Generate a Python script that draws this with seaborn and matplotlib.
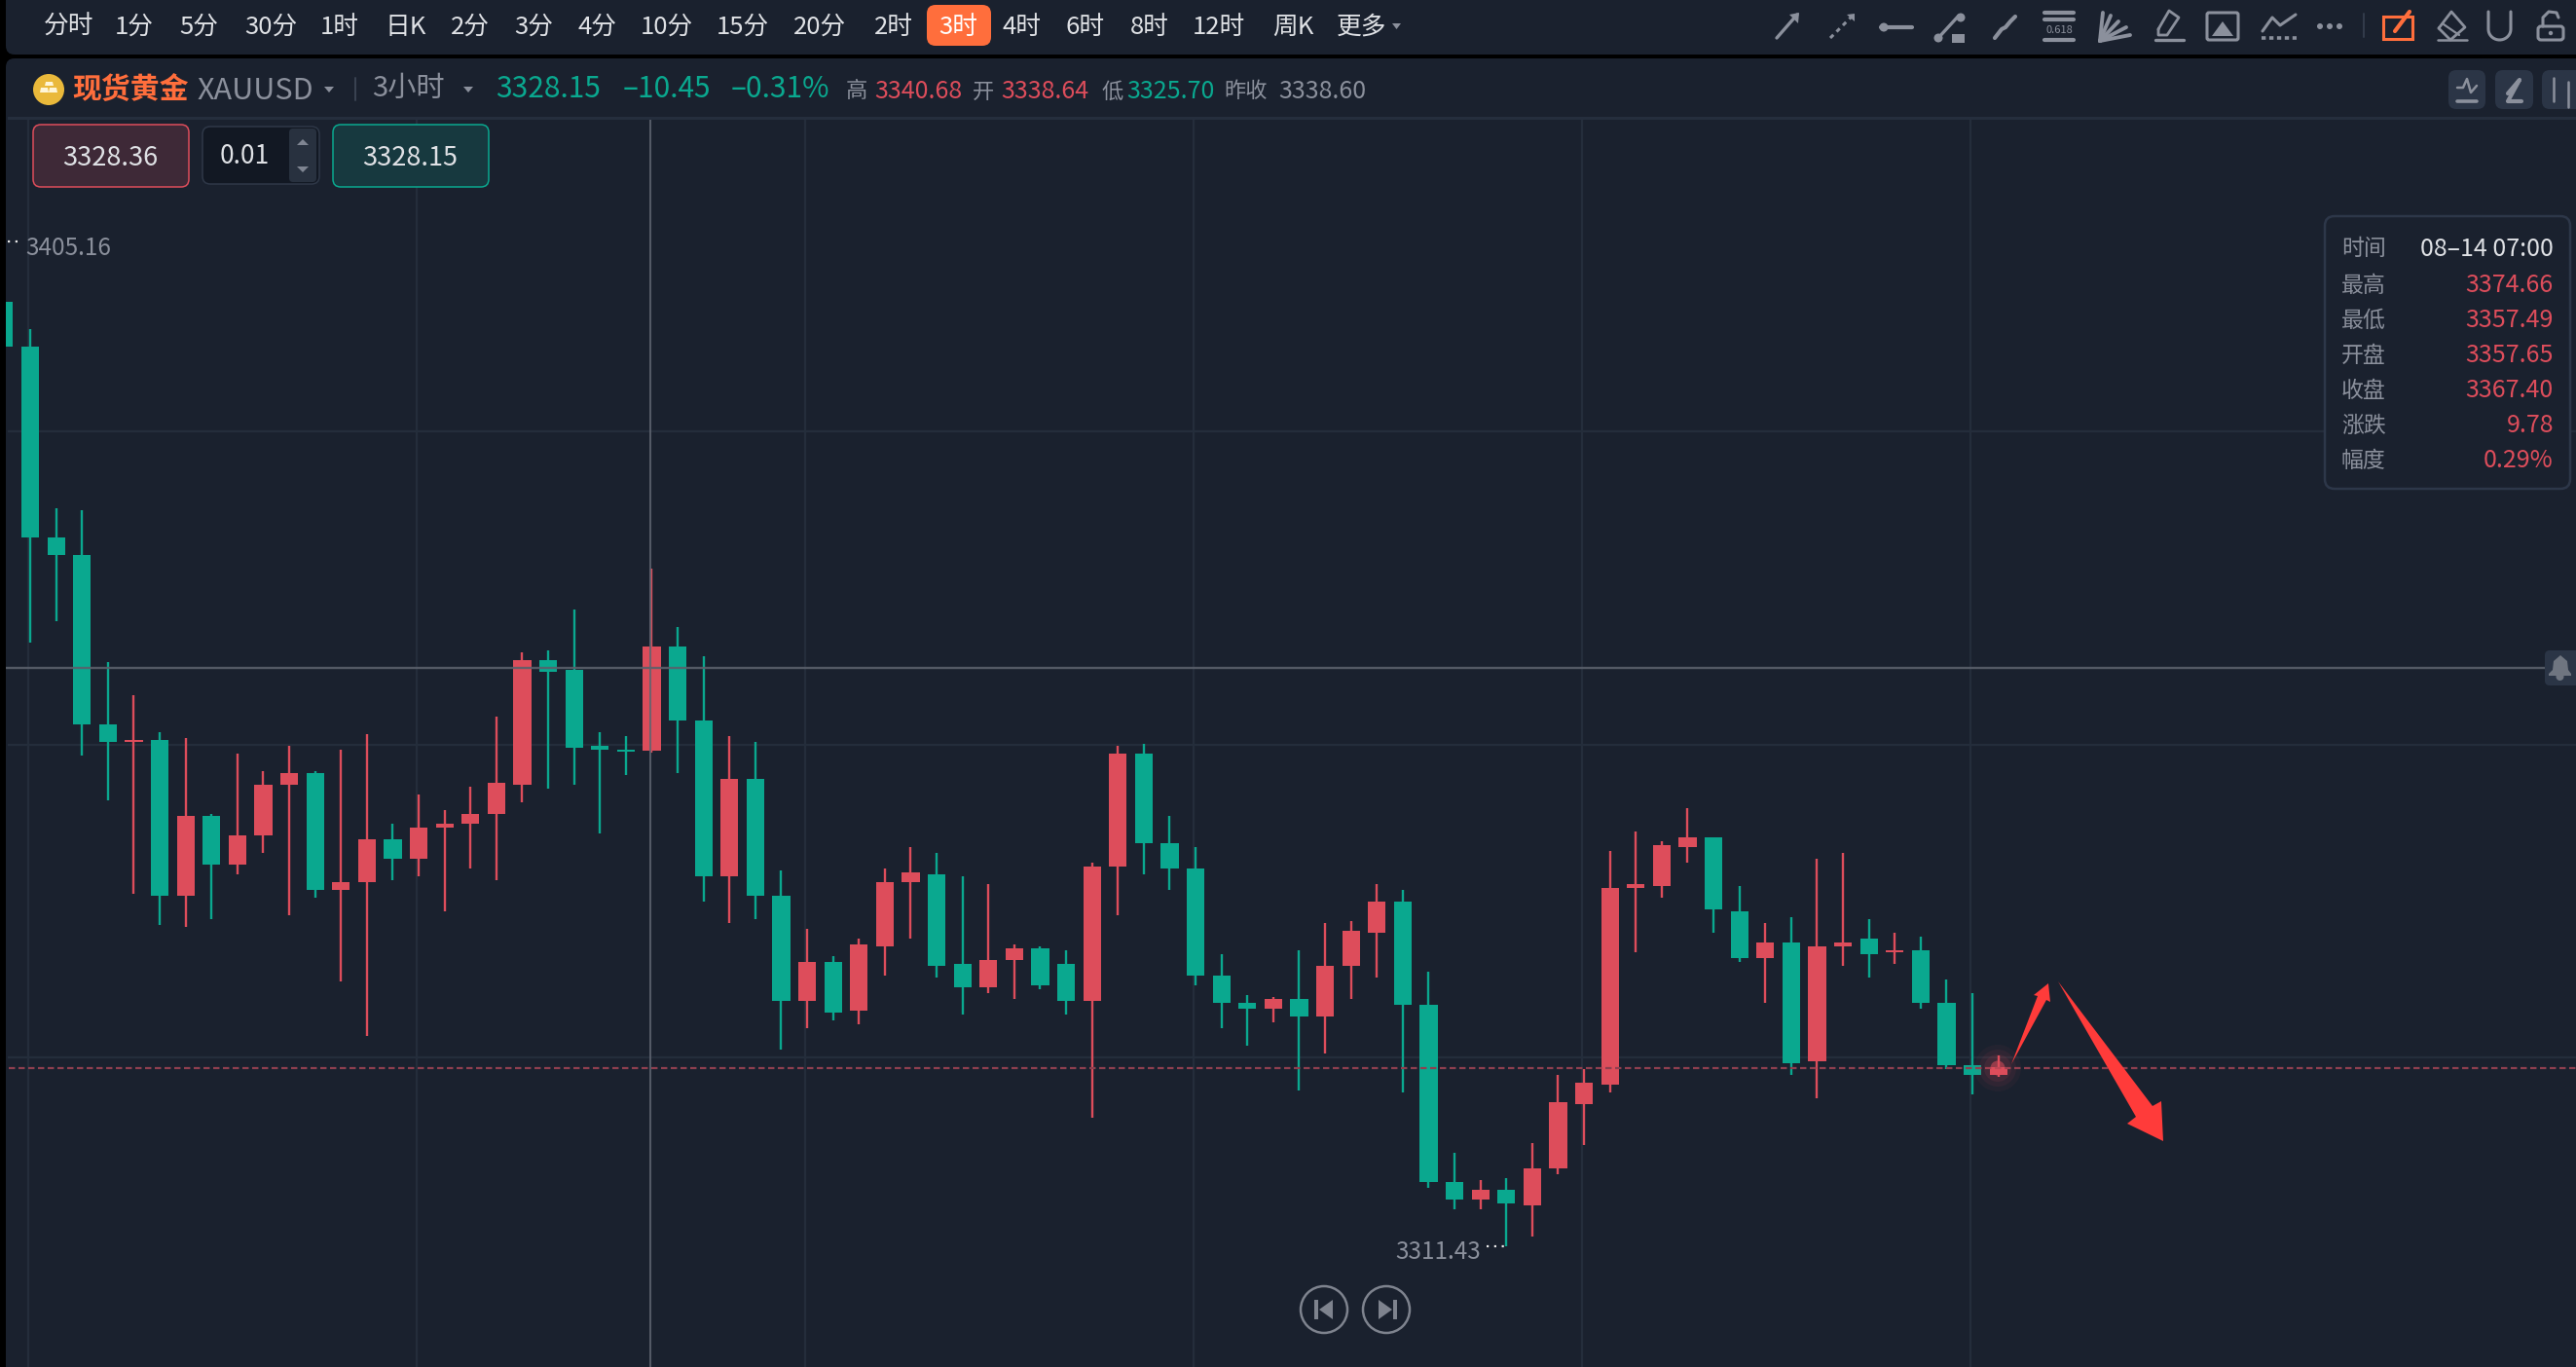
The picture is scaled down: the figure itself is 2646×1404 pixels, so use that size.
import numpy as np
import pandas as pd
import matplotlib
matplotlib.use("Agg")
import matplotlib.pyplot as plt
from matplotlib.patches import FancyBboxPatch, Polygon, Circle, Rectangle
from matplotlib.transforms import IdentityTransform
import seaborn as sns

# ------------------ data ------------------
bars = list(range(-1, 77))
opens = [3399.49,3395.36,3377.52,3375.87,3360.08,3358.44,3358.64,3344.09,3351.56,3347.03,3349.72,3354.45,3355.55,3344.64,3345.38,3349.37,3347.52,3350.46,3350.81,3351.71,3354.45,3366.06,3365.16,3358.09,3357.74,3357.65,3367.37,3360.45,3345.92,3354.99,3344.11,3334.27,3337.92,3333.37,3339.38,3345.36,3346.09,3337.75,3335.56,3338.10,3339.21,3337.75,3334.27,3346.82,3357.35,3349.01,3346.65,3336.64,3334.10,3333.58,3334.48,3332.85,3337.58,3340.67,3343.58,3333.95,3317.39,3315.77,3316.67,3315.24,3318.68,3324.68,3326.48,3344.83,3345.01,3348.64,3349.57,3342.64,3338.30,3339.77,3328.67,3339.37,3340.13,3338.87,3339.01,3334.13,3328.31,3327.40]
closes = [3395.36,3377.52,3375.87,3360.08,3358.44,3358.64,3344.09,3351.56,3347.03,3349.72,3354.45,3355.55,3344.64,3345.38,3349.37,3347.52,3350.46,3350.81,3351.71,3354.65,3366.06,3365.01,3357.89,3357.74,3357.54,3367.40,3360.45,3345.92,3354.99,3344.11,3334.27,3337.92,3333.20,3339.56,3345.36,3346.27,3337.58,3335.56,3338.10,3339.21,3335.73,3334.27,3346.82,3357.35,3349.01,3346.65,3336.64,3334.10,3333.58,3334.48,3332.85,3337.58,3340.85,3343.58,3333.95,3317.39,3315.77,3316.67,3315.41,3318.68,3324.86,3326.66,3344.83,3345.19,3348.82,3349.57,3342.86,3338.30,3339.77,3328.49,3339.37,3339.77,3338.65,3339.01,3334.13,3328.31,3327.41,3328.10]
highs = [3405.16,3396.95,3380.26,3380.06,3365.91,3362.82,3359.33,3358.83,3351.71,3357.34,3355.75,3358.09,3355.75,3357.74,3359.18,3350.81,3353.55,3352.11,3354.25,3360.83,3366.81,3367.01,3370.79,3359.33,3358.98,3374.66,3369.17,3366.46,3358.99,3358.47,3346.48,3341.02,3338.48,3340.11,3346.65,3348.63,3348.11,3345.92,3345.19,3339.56,3339.38,3339.00,3347.21,3358.08,3358.26,3351.55,3348.63,3338.65,3334.83,3334.66,3339.00,3341.57,3341.74,3345.19,3344.65,3337.04,3320.12,3317.57,3317.79,3321.05,3327.38,3327.95,3348.28,3350.11,3349.22,3352.30,3349.57,3345.01,3341.56,3342.10,3347.56,3348.10,3341.92,3340.67,3340.31,3336.28,3335.03,3329.21]
lows = [3395.36,3367.70,3369.70,3357.19,3353.00,3344.29,3341.35,3341.20,3341.89,3346.08,3348.07,3342.29,3343.94,3336.11,3331.03,3345.53,3345.93,3342.64,3346.63,3345.53,3352.81,3354.10,3354.45,3349.92,3355.35,3357.49,3355.55,3343.56,3341.57,3341.92,3329.76,3331.74,3332.47,3332.12,3336.64,3340.11,3336.46,3333.02,3335.01,3334.48,3335.39,3333.02,3323.40,3342.27,3346.09,3344.63,3335.73,3331.74,3330.10,3332.29,3325.93,3329.37,3334.49,3336.46,3325.76,3316.85,3314.88,3314.88,3311.43,3312.33,3318.14,3320.87,3325.76,3338.83,3343.93,3347.20,3340.67,3337.94,3334.13,3327.41,3325.22,3337.58,3336.46,3337.76,3333.59,3327.95,3325.58,3327.25]
grid_prices = [3387.43, 3358.17, 3329.03]
grid_bars = [0, 15, 30, 45, 60, 75]
cross_bar = 24
cross_price = 3365.36
last_price = 3328.04

periods = ["分时","1分","5分","30分","1时","日K","2分","3分","4分","10分","15分","20分","2时","3时","4时","6时","8时","12时","周K","更多"]
tooltip_labels = ["时间","最高","最低","开盘","收盘","涨跌","幅度"]
tooltip_values = ["08–14 07:00","3374.66","3357.49","3357.65","3367.40","9.78","0.29%"]

# ------------------ style ------------------
BG = "#1a212e"; TEAL = "#0aa88f"; RED = "#dd4d5b"; GREY = "#8b909c"
ORANGE = "#ff6e3c"; LIGHT = "#dfe1e5"; GRID = "#242d3b"
W, H = 2646, 1404
sns.set_theme(style="dark", rc={"figure.facecolor": "#000000", "axes.facecolor": BG})
plt.rcParams["font.family"] = ["Noto Sans CJK SC", "DejaVu Sans"]
plt.rcParams["patch.force_edgecolor"] = False

fig = plt.figure(figsize=(W/100, H/100), dpi=100)
fig.patch.set_facecolor("#000000")
# rounded toolbar and chart panels (device pixels, origin bottom-left)
for (x0, y0, x1, y1) in [(6, H-56, W+30, H+30), (6, -30, W+30, H-60)]:
    fig.add_artist(FancyBboxPatch((x0, y0), x1-x0, y1-y0, boxstyle="round,pad=0,rounding_size=9",
                                  fc=BG, ec="none", transform=IdentityTransform(), zorder=-5))

L, R, T, B = 6, W, 122, H
ax = fig.add_axes([L/W, 1-B/H, (R-L)/W, (B-T)/H])
STEP, X0 = 26.6, 31.0
PPP, YREF, PREF = 11.01, 1279.8, 3311.43   # pixels per price, reference

df = pd.DataFrame({"bar": bars, "o": opens, "c": closes, "h": highs, "l": lows})
df["base"] = df[["o", "c"]].min(axis=1)
df["size"] = (df["o"] - df["c"]).abs()
df["up"] = df["c"] > df["o"]

ax.hlines(grid_prices, (8-X0)/STEP, 120, color=GRID, lw=1.6, zorder=1)
ax.vlines(np.array(grid_bars) - 0.06, 3200, 3500, color=GRID, lw=1.6, zorder=1)

for is_up, colour in [(True, RED), (False, TEAL)]:
    sub = df[df["up"] == is_up].sort_values("bar")
    ax.vlines(sub["bar"], sub["l"], sub["h"], color=colour, lw=1.7, zorder=2)
    sns.barplot(data=sub, x="bar", y="size", bottom=sub["base"].values, native_scale=True,
                width=18.2/STEP, color=colour, saturation=1, errorbar=None, linewidth=0,
                zorder=3, ax=ax)

ax.hlines(last_price, -5, 120, color="#8e3f4f", lw=1.6, linestyles=(0, (2.9, 1.6)), zorder=4)
ax.hlines(cross_price, -5, (2614-X0)/STEP, color="#5a606b", lw=1.7, alpha=.9, zorder=5)
ax.vlines(cross_bar - 0.05, 3200, 3500, color="#5e6470", lw=1.5, alpha=.85, zorder=5)
ax.set_xlim((L-X0)/STEP, (R-X0)/STEP)
ax.set_ylim(PREF+(YREF-B)/PPP, PREF+(YREF-T)/PPP)
ax.set_xlabel(""); ax.set_ylabel("")
ax.set_axis_off()

# ------------------ UI overlay, in pixels ------------------
ui = fig.add_axes([0, 0, 1, 1], facecolor="none")
ui.set_xlim(0, W); ui.set_ylim(H, 0); ui.set_axis_off()

def txt(x, y, s, c=LIGHT, fs=18, ha="left", **k):
    ui.text(x, y+4, s, color=c, fontsize=fs, ha=ha, va="center", **k)
def box(x0, y0, x1, y1, fc, ec="none", r=8, lw=1.4, z=2, **k):
    ui.add_patch(FancyBboxPatch((x0, y0), x1-x0, y1-y0, boxstyle=f"round,pad=0,rounding_size={r}",
                                fc=fc, ec=ec, lw=lw, zorder=z, **k))
def line(xs, ys, c=GREY, lw=2.4, **k):
    ui.plot(xs, ys, color=c, lw=lw, solid_capstyle="round", **k)
def poly(pts, c=GREY, **k):
    ui.add_patch(Polygon(pts, closed=True, fc=c, ec="none", **k))

# header rule
ui.add_patch(Rectangle((8, 120), W, 3, fc="#252e3d", ec="none"))

# period bar
period_x = [71,138,204,278,349,417,483,548,614,685,763,842,918,984,1050,1115,1181,1252,1328,1399]
box(952, 5, 1018, 47, ORANGE, r=9)
for x, s in zip(period_x, periods):
    txt(x, 24, s, "#ffffff" if s == "3时" else LIGHT, 18.5, ha="center", zorder=3)
poly([(1430, 24), (1439, 24), (1434.5, 30)], GREY)

# toolbar icons
line([1825, 1846], [39, 15]); poly([(1838, 15), (1848, 13), (1847, 24)])
line([1880, 1904], [39, 15], ls=(0, (1.5, 1.5)), lw=2.2)
poly([(1897, 15), (1905, 14), (1905, 22)])
line([1932, 1964], [28, 28], lw=3); ui.add_patch(Circle((1935, 28), 4.5, fc=GREY))
line([1990, 2012], [40, 16]); ui.add_patch(Circle((1991, 39), 4.5, fc=GREY)); ui.add_patch(Circle((2014, 18), 4.5, fc=GREY))
ui.add_patch(Rectangle((2005, 35), 13, 9, fc=GREY))
line([2049, 2056, 2060, 2065, 2070], [39, 30, 28, 22, 17], lw=3)
for y in (13, 20, 41):
    line([2100, 2130], [y, y], lw=3)
txt(2115, 27, "0.618", GREY, 8, ha="center")
for xe, ye in [(2160, 13), (2168, 16), (2176, 22), (2184, 28), (2188, 36)]:
    line([2157, xe], [42, ye], lw=2.8)
line([2214, 2243], [41, 41])
line([2217, 2228, 2238, 2226, 2217, 2217], [30, 11, 18, 36, 36, 30], lw=2)
box(2267, 13, 2299, 41, "none", GREY, r=2, lw=2.2)
poly([(2272, 37), (2283, 22), (2294, 37)])
line([2324, 2334, 2342, 2358], [32, 18, 26, 15], lw=2.2)
line([2323, 2359], [39, 39], ls=(0, (1.2, 1)), lw=2.6)
for x in (2383, 2393, 2403):
    ui.add_patch(Circle((x, 27), 3, fc=GREY))
line([2428, 2428], [14, 38], "#333c4b", 1.4)
ui.add_patch(Rectangle((2448, 17), 30, 23, fc="none", ec=ORANGE, lw=2.2))
line([2460, 2475], [32, 12], ORANGE, 3)
line([2505, 2518, 2532, 2517, 2505], [29, 12, 28, 41, 29], lw=2)
line([2504, 2534], [41, 41], lw=1.8); line([2510, 2526], [25, 36], lw=1.6)
t = np.linspace(np.pi, 0, 20)
line(np.r_[2556, 2567.5+11.5*np.cos(t), 2579], np.r_[12, 30+11*np.sin(t), 12], lw=2.2)
box(2607, 27, 2633, 41, "none", GREY, r=3, lw=2.2)
line([2612, 2612, 2618, 2626, 2628], [27, 18, 12, 13, 18], lw=2.2)
ui.add_patch(Circle((2620, 34), 2.2, fc=GREY))

# header row
ui.add_patch(Circle((50, 92), 16, fc="#eab93b", zorder=2))
poly([(47, 84), (54, 84), (55, 88), (46, 88)], "#fff6d8", zorder=3)
poly([(42, 90), (49, 90), (50, 95), (41, 95)], "#fff6d8", zorder=3)
poly([(51, 90), (58, 90), (59, 95), (50, 95)], "#fff6d8", zorder=3)
txt(74, 88, "现货黄金", ORANGE, 21.5, fontweight="bold")
txt(202, 89, "XAUUSD", GREY, 22)
poly([(333, 89), (343, 89), (338, 95)])
line([365, 365], [80, 103], "#3a4352", 1.4)
txt(382, 87, "3小时", GREY, 21)
poly([(476, 89), (486, 89), (481, 95)])
txt(509, 88, "3328.15", TEAL, 21.5)
txt(640, 88, "–10.45", TEAL, 21.5)
txt(751, 88, "–0.31%", TEAL, 21.5)
for x, s, c, fs in [(869,"高",GREY,16),(898,"3340.68",RED,18),(999,"开",GREY,16),(1028,"3338.64",RED,18),
                    (1131,"低",GREY,16),(1157,"3325.70",TEAL,18),(1257,"昨收",GREY,16),(1313,"3338.60",GREY,18)]:
    txt(x, 90, s, c, fs)
for x0, x1 in [(2515, 2553), (2563, 2602), (2611, 2660)]:
    box(x0, 72, x1, 112, "#2b3546", r=8)
line([2524, 2530, 2534, 2538, 2544], [90, 90, 81, 95, 88], lw=1.8); line([2524, 2544], [104, 104], lw=2.6)
line([2576, 2588, 2576, 2590], [96, 82, 104, 104], lw=3)
line([2623, 2623], [80, 104], lw=1.8); ui.add_patch(Rectangle((2619, 85), 8, 12, fc=GREY))
line([2638, 2638], [84, 110], lw=1.8); ui.add_patch(Rectangle((2634, 90), 8, 12, fc=GREY))

# order buttons
box(34, 128, 194, 192, "#3e2937", RED, lw=1.1)
txt(113, 158, "3328.36", LIGHT, 19.5, ha="center", zorder=3)
box(208, 130, 328, 189, "#121823", "#2f3848", lw=1.1)
box(297, 132, 325, 187, "#28313f", r=4, z=3)
poly([(305, 149), (317, 149), (311, 143)], "#7f8592", zorder=4)
poly([(305, 171), (317, 171), (311, 177)], "#7f8592", zorder=4)
txt(226, 157, "0.01", LIGHT, 19, zorder=3)
box(342, 128, 502, 192, "#17393f", TEAL, lw=1.1)
txt(421, 158, "3328.15", LIGHT, 19.5, ha="center", zorder=3)

# extremes
line([8, 22], [248, 248], "#e8e8e8", 1.6, ls=(0, (1, 2.5)))
txt(26, 251, "3405.16", GREY, 17.5)
line([1527, 1546], [1280, 1280], "#e8e8e8", 1.6, ls=(0, (1, 2.5)))
txt(1521, 1282, "3311.43", GREY, 17.5, ha="right")

# tooltip
box(2388, 222, 2640, 502, BG, "#2d3749", r=10, lw=1.8, z=6)
for y, a, b, i in zip([252, 289, 325, 361, 397, 433, 469], tooltip_labels, tooltip_values, range(7)):
    txt(2405, y, a, GREY, 16.5, zorder=7)
    txt(2623, y, b, LIGHT if i == 0 else RED, 18, ha="right", zorder=7)

# bell at crosshair
box(2614, 668, 2670, 704, "#2b3546", r=5)
poly([(2618, 692), (2622, 688), (2623, 679), (2630, 673), (2637, 679), (2638, 688), (2641, 692), (2641, 694), (2618, 694)], "#6f7580", zorder=3)
ui.add_patch(Circle((2629.5, 695), 4, fc="#6f7580", zorder=3))

# glow on last candle
for r_, a_ in [(24, .05), (19, .07), (14, .10), (7.5, .55)]:
    ui.add_patch(Circle((2052, 1097), r_, fc=RED, alpha=a_, ec="none"))

# red hand-drawn arrows
ARROW = "#ff3b3a"
poly([(2066, 1093), (2093, 1023), (2089, 1022), (2104, 1010), (2106, 1029), (2102, 1027)], ARROW)
poly([(2114, 1008), (2211, 1136), (2220, 1131), (2222, 1172), (2185, 1154), (2194, 1147)], ARROW)

# replay buttons
for cx in (1360, 1424):
    ui.add_patch(Circle((cx, 1345), 24, fc="none", ec="#7e838e", lw=1.8))
poly([(1369, 1335), (1369, 1355), (1355, 1345)], "#7e838e")
ui.add_patch(Rectangle((1350, 1335), 3.5, 20, fc="#7e838e"))
poly([(1416, 1335), (1416, 1355), (1430, 1345)], "#7e838e")
ui.add_patch(Rectangle((1431, 1335), 3.5, 20, fc="#7e838e"))

fig.savefig("out.png", dpi=100, facecolor="#000000")
